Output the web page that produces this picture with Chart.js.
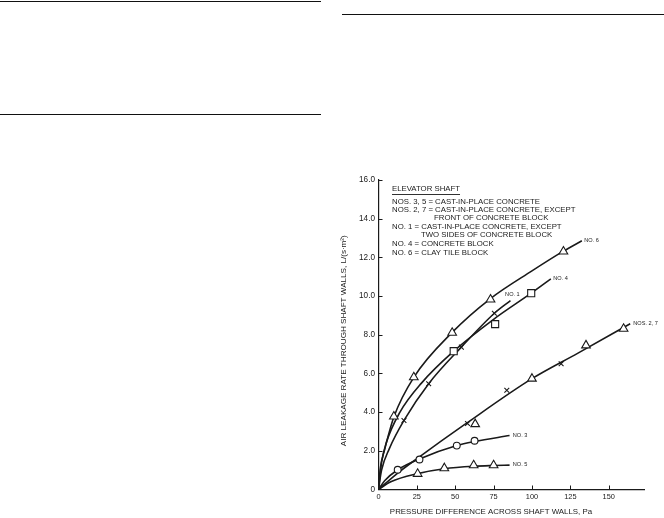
<!DOCTYPE html>
<html><head><meta charset="utf-8">
<script src="https://cdn.jsdelivr.net/npm/chart.js@4/dist/chart.umd.min.js"></script>
<style>
html,body{margin:0;padding:0;background:#fff;width:664px;height:518px;overflow:hidden}
#wrap{position:absolute;left:0;top:0;width:664px;height:518px}
.rule{position:absolute;height:0;border-top:1.5px solid #111}
</style></head><body>
<div class="rule" style="left:0;top:1px;width:321px"></div>
<div class="rule" style="left:0;top:114px;width:321px"></div>
<div class="rule" style="left:342px;top:14px;width:322px"></div>
<div id="wrap"><canvas id="c" width="664" height="518"></canvas></div>
<script>
// ---- axis ticks ----
const xTicks = [0, 25, 50, 75, 100, 125, 150];
const yTicks = [0, 2, 4, 6, 8, 10, 12, 14, 16];
const yTickLabels = ["0", "2.0", "4.0", "6.0", "8.0", "10.0", "12.0", "14.0", "16.0"];

// ---- measured points (markers) ----
const no6TriX = [10, 23, 48, 73, 120.5];
const no6TriY = [3.77, 5.8, 8.1, 9.82, 12.3];
const no4SqX = [49, 76, 99.5];
const no4SqY = [7.15, 8.55, 10.15];
const no1CrossX = [16.6, 32.7, 54, 75.5];
const no1CrossY = [3.57, 5.47, 7.36, 9.11];
const nos27TriX = [63, 100, 135.2, 159.7];
const nos27TriY = [3.38, 5.73, 7.45, 8.31];
const nos27CrossX = [58, 83.6, 119];
const nos27CrossY = [3.41, 5.13, 6.5];
const no3CircX = [12.5, 26.7, 51, 62.6];
const no3CircY = [1.02, 1.55, 2.27, 2.52];
const no5TriX = [25.5, 42.9, 62, 75];
const no5TriY = [0.81, 1.1, 1.25, 1.25];

// ---- fitted curves ----
const no6CurveX = [0, 1.2, 3.8, 10, 23, 48, 73, 100, 120.5, 132.5];
const no6CurveY = [0, 1.1, 2.0, 3.75, 5.8, 8.12, 9.87, 11.3, 12.32, 12.86];
const no4CurveX = [0, 2, 5, 14, 28, 49, 75, 99.5, 112.3];
const no4CurveY = [0, 1.4, 2.4, 4.0, 5.5, 7.15, 8.8, 10.15, 10.89];
const no1CurveX = [0, 2, 7, 16.6, 32.7, 54, 75.5, 86];
const no1CurveY = [0, 1.0, 2.1, 3.57, 5.47, 7.36, 9.11, 9.77];
const nos27CurveX = [0, 12.5, 26, 56, 100, 130, 164];
const nos27CurveY = [0, 0.85, 1.65, 3.35, 5.73, 7.05, 8.57];
const no3CurveX = [0, 4, 12.5, 26.7, 51, 62.6, 85.4];
const no3CurveY = [0, 0.45, 1.02, 1.58, 2.27, 2.48, 2.79];
const no5CurveX = [0, 8, 25.5, 42.9, 62, 75, 85.4];
const no5CurveY = [0, 0.4, 0.82, 1.07, 1.2, 1.24, 1.26];

// ---- curve end labels (data coordinates) ----
const curveLabels = ["NO. 6", "NO. 4", "NO. 1", "NOS. 2, 7", "NO. 3", "NO. 5"];
const curveLabelX = [134, 113.8, 82.5, 166, 87.5, 87.5];
const curveLabelY = [12.86, 10.9, 10.08, 8.58, 2.8, 1.27];

// ---- text ----
const xTitle = "PRESSURE DIFFERENCE ACROSS SHAFT WALLS, Pa";
const yTitle = "AIR LEAKAGE RATE THROUGH SHAFT WALLS, L/(s\u00B7m\u00B2)";
const keyTitle = "ELEVATOR SHAFT";
const keyLines = [
  "NOS. 3, 5 = CAST-IN-PLACE CONCRETE",
  "NOS. 2, 7 = CAST-IN-PLACE CONCRETE, EXCEPT",
  "FRONT OF CONCRETE BLOCK",
  "NO. 1 = CAST-IN-PLACE CONCRETE, EXCEPT",
  "TWO SIDES OF CONCRETE BLOCK",
  "NO. 4 = CONCRETE BLOCK",
  "NO. 6 = CLAY TILE BLOCK"
];

const FONT = '"Liberation Sans", Arial, Helvetica, sans-serif';
const INK = '#1a1a1a';
const pts = (xs, ys) => xs.map((x, i) => ({x: x, y: ys[i]}));

function curve(xs, ys) {
  return {type: 'line', data: pts(xs, ys), borderColor: INK, borderWidth: 1.6,
    pointRadius: 0, fill: false, cubicInterpolationMode: 'monotone', order: 2};
}
function marks(xs, ys, style, r) {
  return {type: 'scatter', data: pts(xs, ys), showLine: false, pointStyle: style,
    pointRadius: r, borderColor: INK, backgroundColor: '#fff', pointBorderWidth: 1.1,
    borderWidth: 1.1, order: 1};
}

const decor = {
  id: 'decor',
  afterDraw(chart) {
    const ctx = chart.ctx, xs = chart.scales.x, ys = chart.scales.y;
    const a = chart.chartArea;
    ctx.save();
    ctx.strokeStyle = INK; ctx.lineWidth = 1;
    // inward tick marks
    xTicks.forEach(v => { if (v === 0) return; const p = Math.round(xs.getPixelForValue(v)) + 0.5;
      ctx.beginPath(); ctx.moveTo(p, a.bottom); ctx.lineTo(p, a.bottom - 4); ctx.stroke(); });
    yTicks.forEach(v => { if (v === 0) return; const p = Math.round(ys.getPixelForValue(v)) + 0.5;
      ctx.beginPath(); ctx.moveTo(a.left, p); ctx.lineTo(a.left + 4, p); ctx.stroke(); });
    ctx.fillStyle = INK;
    // axis titles
    ctx.font = '7.9px ' + FONT;
    ctx.textAlign = 'center'; ctx.textBaseline = 'middle';
    ctx.fillText(xTitle, 491, 511.5);
    ctx.font = '8.1px ' + FONT;
    ctx.save(); ctx.translate(344, 340.7); ctx.rotate(-Math.PI / 2);
    ctx.fillText(yTitle, 0, 0); ctx.restore();
    // curve labels
    ctx.font = '5.6px ' + FONT; ctx.textAlign = 'left';
    curveLabels.forEach((t, i) => ctx.fillText(t, xs.getPixelForValue(curveLabelX[i]), ys.getPixelForValue(curveLabelY[i])));
    // key block
    ctx.font = '7.8px ' + FONT;
    ctx.fillText(keyTitle, 392, 189);
    const w = ctx.measureText(keyTitle).width;
    ctx.beginPath(); ctx.moveTo(392, 194.5); ctx.lineTo(392 + w, 194.5); ctx.lineWidth = 0.9; ctx.stroke();
    const ky = [201.7, 210, 218.3, 227.3, 235.3, 244.3, 253.3];
    const kx = [392, 392, 434, 392, 421, 392, 392];
    keyLines.forEach((t, i) => ctx.fillText(t, kx[i], ky[i]));
    ctx.restore();
  }
};

new Chart(document.getElementById('c'), {
  data: {
    datasets: [
      curve(no6CurveX, no6CurveY),
      curve(no4CurveX, no4CurveY),
      curve(no1CurveX, no1CurveY),
      curve(nos27CurveX, nos27CurveY),
      curve(no3CurveX, no3CurveY),
      curve(no5CurveX, no5CurveY),
      marks(no6TriX, no6TriY, 'triangle', 5),
      marks(no4SqX, no4SqY, 'rect', 5),
      marks(no1CrossX, no1CrossY, 'crossRot', 3.4),
      marks(nos27TriX, nos27TriY, 'triangle', 5),
      marks(nos27CrossX, nos27CrossY, 'crossRot', 3.4),
      marks(no3CircX, no3CircY, 'circle', 3.4),
      marks(no5TriX, no5TriY, 'triangle', 5)
    ]
  },
  options: {
    responsive: false, animation: false, devicePixelRatio: 1,
    layout: {padding: {left: 339.5, right: 20, top: 180, bottom: 0}},
    plugins: {legend: {display: false}, tooltip: {enabled: false}, title: {display: false}},
    scales: {
      x: {type: 'linear', min: 0, max: 173,
        afterFit: s => { s.height = 28.5; },
        afterBuildTicks: s => { s.ticks = xTicks.map(v => ({value: v})); },
        grid: {display: false, drawTicks: false},
        border: {display: true, color: INK, width: 1.2},
        ticks: {padding: 3.5, color: INK, font: {family: FONT, size: 7.4}, maxRotation: 0,
          callback: v => String(v)}
      },
      y: {type: 'linear', min: 0, max: 16,
        afterFit: s => { s.width = 39; },
        afterBuildTicks: s => { s.ticks = yTicks.map(v => ({value: v})); },
        grid: {display: false, drawTicks: false},
        border: {display: true, color: INK, width: 1.2},
        ticks: {padding: 3.5, color: INK, font: {family: FONT, size: 8.2},
          callback: v => yTickLabels[yTicks.indexOf(v)]}
      }
    }
  },
  plugins: [decor]
});
</script>
</body></html>
